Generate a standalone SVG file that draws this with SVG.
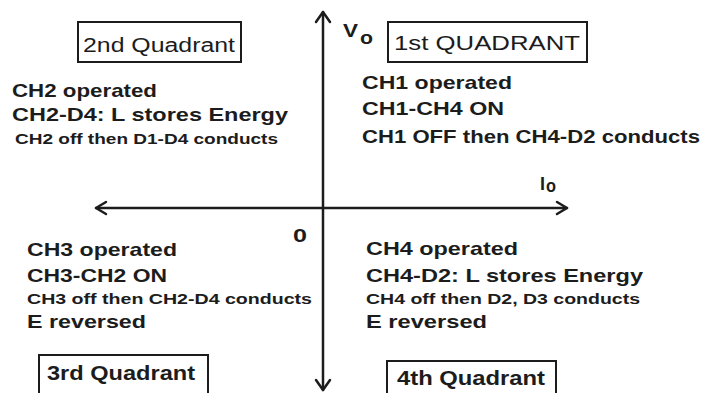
<svg xmlns="http://www.w3.org/2000/svg" width="720" height="393" viewBox="0 0 720 393">
<style>
.b{font-family:"Liberation Sans",Arial,sans-serif;font-weight:bold;fill:#1c1c1c;font-size:19px}
.s{font-size:15px}
.q{font-family:"Liberation Sans",Arial,sans-serif;fill:#1c1c1c;font-size:19.5px}
.qb{font-weight:bold;font-size:20px}
.box{fill:none;stroke:#1c1c1c;stroke-width:2}
.ax{fill:none;stroke:#1c1c1c;stroke-width:2.5;stroke-linecap:round;stroke-linejoin:round}
</style>
<rect width="720" height="393" fill="#fff"/>
<g id="axes">
<path class="ax" d="M323 12 V390"/>
<path class="ax" d="M96 208 H567"/>
<path class="ax" d="M316 22 L323 12 L330 22"/>
<path class="ax" d="M316 380 L323 390 L330 380"/>
<path class="ax" d="M106 202 L96 208 L106 214"/>
<path class="ax" d="M557 202 L567 208 L557 214"/>
</g>
<g id="labels">
<text class="b" x="343" y="37" font-size="18.5" textLength="15" lengthAdjust="spacingAndGlyphs">V</text>
<text class="b" x="360" y="44" font-size="18" textLength="13" lengthAdjust="spacingAndGlyphs">o</text>
<text class="b" x="540" y="190" font-size="20" textLength="5" lengthAdjust="spacingAndGlyphs">I</text>
<text class="b" x="546" y="192" font-size="17" textLength="10" lengthAdjust="spacingAndGlyphs">o</text>
<text class="b" x="293" y="242" font-size="17" textLength="14" lengthAdjust="spacingAndGlyphs">0</text>
</g>
<g id="q2">
<rect class="box" x="78" y="22" width="163" height="40"/>
<text class="q" x="83" y="52" textLength="152" lengthAdjust="spacingAndGlyphs">2nd Quadrant</text>
<text class="b" x="12" y="97" textLength="145" lengthAdjust="spacingAndGlyphs">CH2 operated</text>
<text class="b" x="12" y="121" textLength="276" lengthAdjust="spacingAndGlyphs">CH2-D4: L stores Energy</text>
<text class="b s" x="15" y="144" textLength="263" lengthAdjust="spacingAndGlyphs">CH2 off then D1-D4 conducts</text>
</g>
<g id="q1">
<rect class="box" x="388" y="22" width="199" height="40"/>
<text class="q" x="394" y="50" textLength="186" lengthAdjust="spacingAndGlyphs">1st QUADRANT</text>
<text class="b" x="362" y="89" textLength="150" lengthAdjust="spacingAndGlyphs">CH1 operated</text>
<text class="b" x="362" y="115" textLength="142" lengthAdjust="spacingAndGlyphs">CH1-CH4 ON</text>
<text class="b" x="362" y="143" textLength="338" lengthAdjust="spacingAndGlyphs">CH1 OFF then CH4-D2 conducts</text>
</g>
<g id="q3">
<rect class="box" x="39" y="355" width="169" height="44"/>
<text class="q qb" x="47" y="380" textLength="148" lengthAdjust="spacingAndGlyphs">3rd Quadrant</text>
<text class="b" x="27" y="256" textLength="150" lengthAdjust="spacingAndGlyphs">CH3 operated</text>
<text class="b" x="27" y="282" textLength="140" lengthAdjust="spacingAndGlyphs">CH3-CH2 ON</text>
<text class="b s" x="27" y="304" textLength="285" lengthAdjust="spacingAndGlyphs">CH3 off then CH2-D4 conducts</text>
<text class="b" x="27" y="328" textLength="119" lengthAdjust="spacingAndGlyphs">E reversed</text>
</g>
<g id="q4">
<rect class="box" x="387" y="361" width="169" height="40"/>
<text class="q qb" x="397" y="385" textLength="148" lengthAdjust="spacingAndGlyphs">4th Quadrant</text>
<text class="b" x="366" y="255" textLength="152" lengthAdjust="spacingAndGlyphs">CH4 operated</text>
<text class="b" x="366" y="282" textLength="277" lengthAdjust="spacingAndGlyphs">CH4-D2: L stores Energy</text>
<text class="b s" x="366" y="304" textLength="274" lengthAdjust="spacingAndGlyphs">CH4 off then D2, D3 conducts</text>
<text class="b" x="366" y="328" textLength="121" lengthAdjust="spacingAndGlyphs">E reversed</text>
</g>
</svg>
